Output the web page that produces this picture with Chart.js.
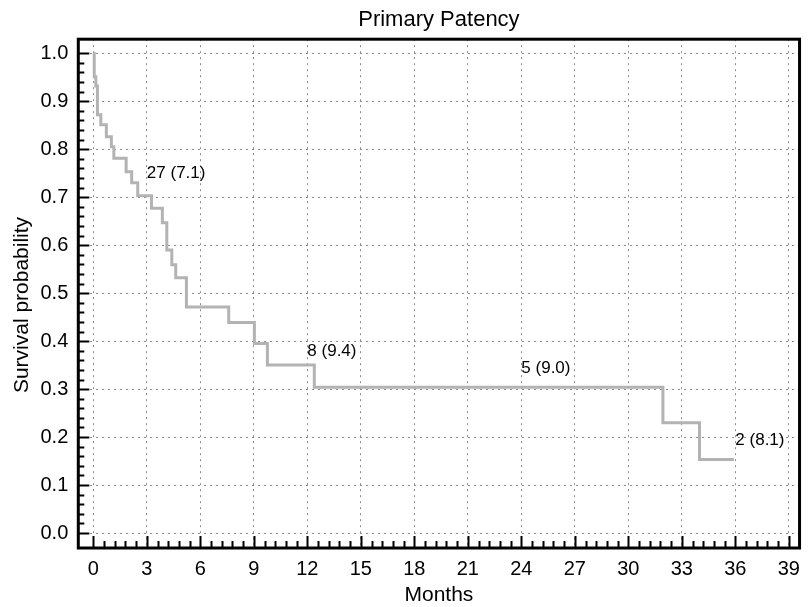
<!DOCTYPE html>
<html lang="en">
<head>
<meta charset="UTF-8">
<title>Primary Patency</title>
<script src="https://cdn.jsdelivr.net/npm/chart.js"></script>
<style>
  html, body { margin: 0; padding: 0; background: #fff; }
  #wrap { width: 809px; height: 607px; }
</style>
</head>
<body>
<div id="wrap"><canvas id="km"></canvas></div>
<script>
// Kaplan-Meier steps: time of each drop (months) and survival after it
const months   = [0, 0.05, 0.14, 0.23, 0.42, 0.73, 1.01, 1.15, 1.84, 2.15, 2.49, 3.26, 3.87, 4.12, 4.40, 4.62, 5.22, 7.59, 9.03, 9.76, 12.39, 31.94, 33.99, 35.92];
const survival = [1.0, 0.951, 0.932, 0.872, 0.851, 0.826, 0.805, 0.781, 0.753, 0.730, 0.703, 0.677, 0.647, 0.590, 0.559, 0.532, 0.471, 0.439, 0.395, 0.350, 0.304, 0.230, 0.153, 0.153];

// number at risk (mean) annotations
const riskMonths = [3, 12, 24, 36];
const riskLevel  = [0.749, 0.378, 0.344, 0.194];
const riskText   = ['27 (7.1)', '8 (9.4)', '5 (9.0)', '2 (8.1)'];

const xTicks = [0, 3, 6, 9, 12, 15, 18, 21, 24, 27, 30, 33, 36, 39];
const yTicks = [0, 0.1, 0.2, 0.3, 0.4, 0.5, 0.6, 0.7, 0.8, 0.9, 1.0];

const FONT = "'Liberation Sans', Arial, sans-serif";
Chart.defaults.font.family = FONT;
Chart.defaults.color = '#000';

// ticks inside the frame, the frame, titles and the at-risk labels
const framePlugin = {
    id: 'frame',
    afterDatasetsDraw(chart) {
        const ctx = chart.ctx;
        const a = chart.chartArea;
        const xs = chart.scales.x, ys = chart.scales.y;
        ctx.save();
        ctx.strokeStyle = '#000';
        ctx.lineWidth = 2;
        ctx.beginPath();
        for (let v = 0; v <= 1.0001; v += 0.02) {
            const y = Math.round(ys.getPixelForValue(v)) + 0.5;
            const major = Math.abs(v * 10 - Math.round(v * 10)) < 1e-6;
            ctx.moveTo(a.left, y);
            ctx.lineTo(a.left + (major ? 11 : 6), y);
        }
        for (let m = 0; m <= 39.01; m += 0.6) {
            const x = Math.round(xs.getPixelForValue(m)) + 0.5;
            const major = Math.abs(m / 3 - Math.round(m / 3)) < 1e-6;
            ctx.moveTo(x, a.bottom);
            ctx.lineTo(x, a.bottom - (major ? 12 : 7));
        }
        ctx.stroke();
        ctx.lineWidth = 3;
        ctx.strokeRect(a.left, a.top, a.right - a.left, a.bottom - a.top);

        ctx.fillStyle = '#000';
        ctx.textBaseline = 'middle';
        ctx.textAlign = 'center';
        ctx.font = '22px ' + FONT;
        ctx.fillText('Primary Patency', (a.left + a.right) / 2, 20);

        ctx.save();
        ctx.font = '21px ' + FONT;
        ctx.translate(22, 305);
        ctx.rotate(-Math.PI / 2);
        ctx.fillText('Survival probability', 0, 0);
        ctx.restore();

        ctx.font = '17px ' + FONT;
        ctx.textAlign = 'left';
        riskMonths.forEach((m, i) => {
            ctx.fillText(riskText[i], xs.getPixelForValue(m), ys.getPixelForValue(riskLevel[i]));
        });
        ctx.restore();
    }
};

new Chart(document.getElementById('km'), {
    type: 'line',
    data: {
        datasets: [{
            data: months.map((m, i) => ({ x: m, y: survival[i] })),
            stepped: 'before',
            borderColor: '#b3b3b3',
            borderWidth: 3,
            pointRadius: 0,
            fill: false
        }]
    },
    options: {
        responsive: true,
        maintainAspectRatio: false,
        animation: false,
        layout: { padding: { top: 39.2, right: 2 } },
        plugins: {
            legend: { display: false },
            tooltip: { enabled: false },
            title: { display: false }
        },
        scales: {
            x: {
                type: 'linear',
                min: -0.843,
                max: 39.6,
                afterBuildTicks: s => { s.ticks = xTicks.map(v => ({ value: v })); },
                afterFit: s => { s.height = 59; },
                ticks: { font: { size: 20 }, padding: 9, maxRotation: 0, autoSkip: false, callback: v => v },
                grid: { color: '#8c8c8c', lineWidth: 1, drawTicks: false },
                border: { display: false, dash: [2, 4] },
                title: { display: true, text: 'Months', font: { size: 21 }, padding: { top: 0, bottom: -1 } }
            },
            y: {
                min: -0.03125,
                max: 1.0294,
                afterBuildTicks: s => { s.ticks = yTicks.map(v => ({ value: v })); },
                afterFit: s => { s.width = 78.3; },
                ticks: { font: { size: 20 }, padding: 10, callback: v => Number(v).toFixed(1) },
                grid: { color: '#8c8c8c', lineWidth: 1, drawTicks: false },
                border: { display: false, dash: [2, 4] },
                title: { display: false }
            }
        }
    },
    plugins: [framePlugin]
});
</script>
</body>
</html>
